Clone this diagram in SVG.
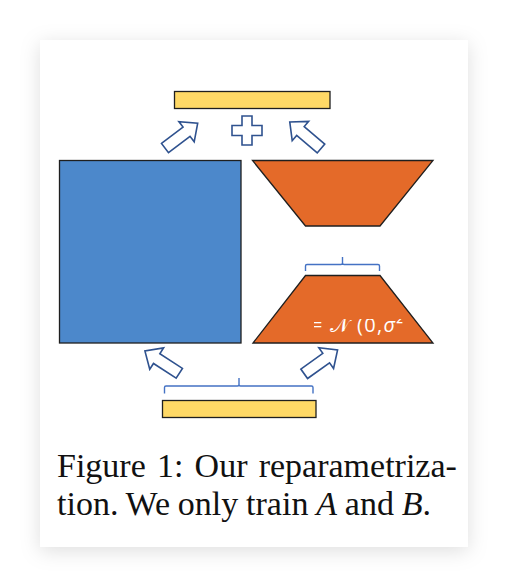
<svg xmlns="http://www.w3.org/2000/svg" width="508" height="588" viewBox="0 0 508 588">
<style>
.blk{stroke:#1f1f1f;stroke-width:1.3}
.arr{fill:#fff;stroke:#2F528F;stroke-width:1.6;stroke-linejoin:miter}
.brace{fill:none;stroke:#4472C4;stroke-width:1.4}
.cap{font-family:"Liberation Serif","Times New Roman",serif;font-size:34px;fill:#111}
</style>
<defs>
<filter id="sh" x="-20%" y="-20%" width="140%" height="140%">
<feDropShadow dx="0" dy="4" stdDeviation="10" flood-color="#000" flood-opacity="0.13"/>
</filter>
<path id="ar" d="M0,-5.8 H27 V-12.7 L41,0 L27,12.7 V5.8 H0 Z"/>
<clipPath id="tc"><rect x="314" y="319" width="119" height="25"/></clipPath>
</defs>
<rect width="508" height="588" fill="#fff"/>
<rect x="40" y="40" width="428" height="507" fill="#fff" filter="url(#sh)"/>
<g id="bar-top"><rect class="blk" x="174.5" y="91.5" width="155.5" height="17" fill="#FFD966"/></g>
<g id="plus"><path class="arr" d="M242,116 H252 V125.5 H262 V135.5 H252 V145 H242 V135.5 H232 V125.5 H242 Z"/></g>
<g id="W"><rect class="blk" x="59.5" y="160.5" width="181.5" height="182.5" fill="#4C88CB"/></g>
<g id="B"><path class="blk" d="M252.5,160.5 H433 L380,226 H305.5 Z" fill="#E46A29"/></g>
<g id="A"><path class="blk" d="M305.5,275.5 H380 L433,343 H253 Z" fill="#E46A29"/>
<text clip-path="url(#tc)" x="311" y="332" font-family="'Open Sans','DejaVu Sans',sans-serif" font-size="20" fill="#fff" letter-spacing="1.3">= 𝒩 (0,<tspan font-style="italic">σ</tspan>²</text></g>
<g id="bar-bottom"><rect class="blk" x="162.5" y="400.5" width="153.5" height="17" fill="#FFD966"/></g>
<g id="connectors">
<use href="#ar" class="arr" transform="translate(165,148) rotate(-37.1)"/>
<use href="#ar" class="arr" transform="translate(321,148.5) rotate(-139.6)"/>
<use href="#ar" class="arr" transform="translate(179.3,373.3) rotate(-147)"/>
<use href="#ar" class="arr" transform="translate(304.2,373.8) rotate(-35.5)"/>
<path class="brace" d="M305.5,271 V266 Q305.5,264.5 307,264.5 H341 Q342.5,264.5 342.5,263 V257 M342.5,263 Q342.5,264.5 344,264.5 H378 Q379.5,264.5 379.5,266 V271"/>
<path class="brace" d="M164.5,393.5 V387.5 Q164.5,386 166,386 H237.5 Q239,386 239,384.5 V378 M239,384.5 Q239,386 240.5,386 H311.5 Q313,386 313,387.5 V393.5"/>
</g>
<g id="caption">
<text class="cap" x="57" y="477" word-spacing="2.7">Figure 1: Our reparametriza-</text>
<text class="cap" x="57" y="515" word-spacing="-0.7">tion. We only train <tspan font-style="italic">A</tspan> and <tspan font-style="italic">B</tspan>.</text>
</g>
</svg>
